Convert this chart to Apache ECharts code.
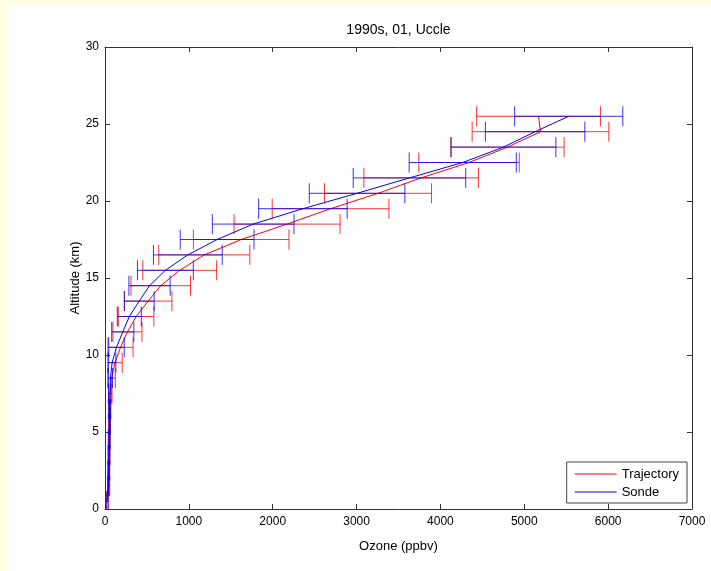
<!DOCTYPE html>
<html>
<head>
<meta charset="utf-8">
<script src="https://cdn.jsdelivr.net/npm/echarts@6/dist/echarts.min.js"></script>
<style>
html,body{margin:0;padding:0;background:#fff;}
#chart{width:711px;height:571px;}
</style>
</head>
<body>
<div id="chart"></div>
<script>
// ---- Data ----
const altitudes = [0.5,1.5,2.5,3.5,4.5,5.5,6.5,7.5,8.5,9.5,10.5,11.5,12.5,13.5,14.5,15.5,16.5,17.5,18.5,19.5,20.5,21.5,22.5,23.5,24.5,25.5];
const trajOzone = [30,45,45,48,50,52,55,62,78,120,185,268,371,515,665,891,1184,1624,2171,2690,3256,3770,4341,4800,5193,5170];
const trajErr   = [15,12,12,12,12,12,15,22,45,85,150,173,212,283,355,440,543,570,632,696,638,683,599,675,815,738];
const sondeOzone = [25,40,45,48,52,55,55,58,65,85,137,212,290,408,531,720,988,1337,1767,2360,3006,3631,4266,4752,5129,5530];
const sondeErr   = [10,8,8,8,8,8,10,15,25,45,92,132,143,178,246,333,410,440,487,528,570,671,639,625,593,645];
const seriesNames = ['Trajectory','Sonde'];
const titleText = '1990s, 01, Uccle';
const xName = 'Ozone (ppbv)';
const yName = 'Altitude (km)';

const FONT = "'Liberation Sans', Arial, Helvetica, sans-serif";
const RED = '#ff0000', BLUE = '#0000ff';
const capKm = 0.65;

function linePts(xs){ return xs.map((v,i)=>[v, altitudes[i]]); }
function errPts(xs, es){ return xs.map((v,i)=>[v, es[i], altitudes[i]]); }

function errRender(color){
  return function(params, api){
    const c = api.value(0), e = api.value(1), y = api.value(2);
    const p1 = api.coord([c - e, y]);
    const p2 = api.coord([c + e, y]);
    const t = api.coord([c, y + capKm])[1];
    const b = api.coord([c, y - capKm])[1];
    const st = {stroke: color, lineWidth: 1, opacity: 0.8};
    return {type:'group', children:[
      {type:'line', shape:{x1:p1[0], y1:p1[1], x2:p2[0], y2:p2[1]}, style:st},
      {type:'line', shape:{x1:p1[0], y1:t, x2:p1[0], y2:b}, style:st},
      {type:'line', shape:{x1:p2[0], y1:t, x2:p2[0], y2:b}, style:st}
    ]};
  };
}

const axisCommon = {
  type:'value',
  axisLine:{show:true, onZero:false, lineStyle:{color:'#333', width:1}},
  axisTick:{show:true, inside:true, length:5, lineStyle:{color:'#333'}},
  splitLine:{show:false},
  axisLabel:{color:'#000', fontSize:12, fontFamily:FONT, formatter:function(v){ return String(v); }},
  nameTextStyle:{color:'#000', fontSize:13, fontFamily:FONT},
  nameMoveOverlap:false
};

const chart = echarts.init(document.getElementById('chart'), null, {renderer:'canvas'});
chart.setOption({
  backgroundColor:'#ffffff',
  animation:false,
  color:[RED, BLUE],
  textStyle:{fontFamily:FONT},
  title:{text:titleText, left:398.5, top:23, textAlign:'center', padding:0,
    textStyle:{fontSize:14, fontWeight:'normal', color:'#000', fontFamily:FONT}},
  graphic:[
    {type:'rect', shape:{x:0,y:0,width:7,height:571}, style:{fill:'#ffffe0'}, silent:true},
    {type:'rect', shape:{x:0,y:0,width:711,height:4}, style:{fill:'#ffffe0'}, silent:true}
  ],
  grid:{left:105, top:47, width:587, height:462, containLabel:false},
  legend:{
    data:[
      {name:seriesNames[0], itemStyle:{color:RED, borderColor:RED, borderWidth:0}},
      {name:seriesNames[1], itemStyle:{color:BLUE, borderColor:BLUE, borderWidth:0}}
    ],
    icon:'rect',
    orient:'vertical', right:24, bottom:68,
    backgroundColor:'#fff', borderColor:'#444', borderWidth:1, borderRadius:0,
    padding:[5,8,4,8], itemWidth:42, itemHeight:1, itemGap:4,
    textStyle:{fontSize:13, color:'#000', fontFamily:FONT, lineHeight:14}
  },
  xAxis:[
    Object.assign({}, axisCommon, {min:0, max:7000, interval:1000, position:'bottom',
      name:xName, nameLocation:'middle', nameGap:31,
      axisLabel:Object.assign({}, axisCommon.axisLabel, {margin:7})}),
    Object.assign({}, axisCommon, {min:0, max:7000, interval:1000, position:'top',
      axisLabel:{show:false}})
  ],
  yAxis:[
    Object.assign({}, axisCommon, {min:0, max:30, interval:5, position:'left',
      name:yName, nameLocation:'middle', nameGap:23,
      axisLabel:Object.assign({}, axisCommon.axisLabel, {margin:6})}),
    Object.assign({}, axisCommon, {min:0, max:30, interval:5, position:'right',
      axisLabel:{show:false}})
  ],
  series:[
    {type:'custom', name:'Trajectory err', xAxisIndex:0, yAxisIndex:0, clip:true,
      renderItem:errRender(RED), data:errPts(trajOzone, trajErr), encode:{x:0, y:2}, z:2},
    {type:'line', name:seriesNames[0], xAxisIndex:0, yAxisIndex:0, symbol:'none', showSymbol:false,
      color:RED, lineStyle:{color:RED, width:1}, itemStyle:{color:RED}, data:linePts(trajOzone), z:3},
    {type:'custom', name:'Sonde err', xAxisIndex:0, yAxisIndex:0, clip:true,
      renderItem:errRender(BLUE), data:errPts(sondeOzone, sondeErr), encode:{x:0, y:2}, z:4},
    {type:'line', name:seriesNames[1], xAxisIndex:0, yAxisIndex:0, symbol:'none', showSymbol:false,
      color:BLUE, lineStyle:{color:BLUE, width:1}, itemStyle:{color:BLUE}, data:linePts(sondeOzone), z:5}
  ]
});
</script>
</body>
</html>
